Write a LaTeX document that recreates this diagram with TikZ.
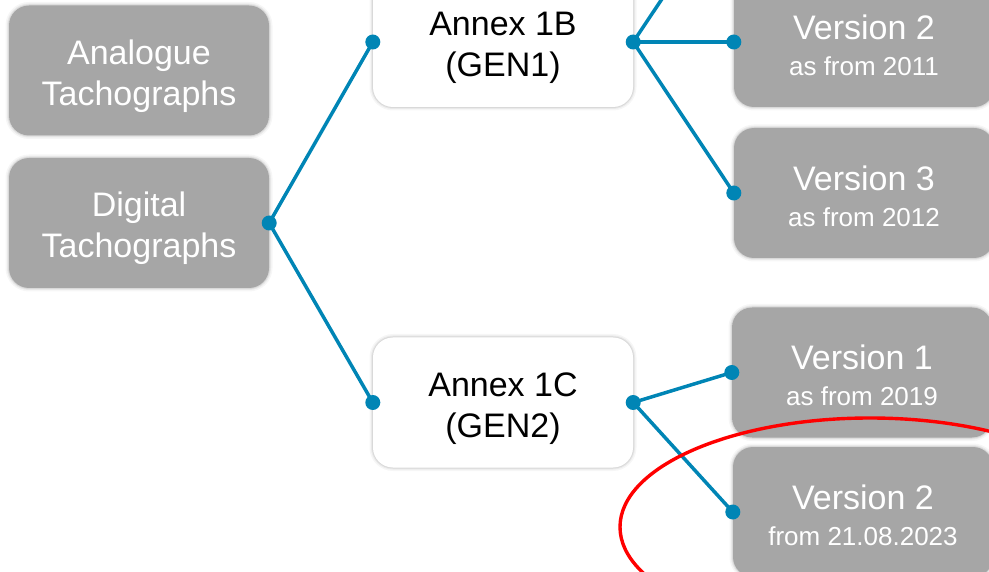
\documentclass[tikz,border=0pt]{standalone}
\usepackage{fontspec}
\setmainfont{Liberation Sans}
\definecolor{boxgrey}{HTML}{A6A6A6}
\definecolor{linkblue}{HTML}{0085B5}
\definecolor{markred}{HTML}{FF0000}
% line struts: ascent and descent of one text line; the top one sits a bit higher
\newcommand\lnstrut{\rule[-0.212em]{0pt}{1.117em}}
\newcommand\topstrut{\rule[-0.212em]{0pt}{1.265em}}
\tikzset{
  softshadow/.style={
    preaction={draw=black,draw opacity=0.035,line width=7pt},
    preaction={draw=black,draw opacity=0.05,line width=4pt},
    preaction={draw=black,draw opacity=0.07,line width=2pt}},
  card/.style={rounded corners=20pt,minimum width=260pt,minimum height=130pt,
    inner sep=0pt,align=center,softshadow},
  greycard/.style={card,fill=boxgrey,text=white,font=\fontsize{34}{41}\selectfont},
  whitecard/.style={card,fill=white,text=black,font=\fontsize{34}{41}\selectfont},
  versioncard/.style={card,fill=boxgrey,text=white,font=\fontsize{34}{36}\selectfont},
  link/.style={draw=linkblue,line width=3.5pt},
  joint/.style={fill=linkblue}
}
\newcommand\subline[1]{{\fontsize{26}{36}\selectfont\lnstrut #1}}
\begin{document}
\begin{tikzpicture}[x=1pt,y=-1pt]
  \useasboundingbox (0,0) rectangle (989,572);
  \clip (0,0) rectangle (989,572);

  % boxes
  \node[greycard]  (ana)  at (139,70.5) {\topstrut Analogue\\\lnstrut Tachographs};
  \node[greycard]  (dig)  at (139,223)  {\topstrut Digital\\\lnstrut Tachographs};
  \node[whitecard] (gen1) at (503,42)   {\topstrut Annex 1B\\\lnstrut (GEN1)};
  \node[whitecard] (gen2) at (503,402.5){\topstrut Annex 1C\\\lnstrut (GEN2)};
  \node[versioncard] (g1v2) at (864,42)  {\topstrut Version 2\\\subline{as from 2011}};
  \node[versioncard] (g1v3) at (864,193) {\topstrut Version 3\\\subline{as from 2012}};
  \node[versioncard] (g2v1) at (862,372.5){\topstrut Version 1\\\subline{as from 2019}};
  \node[versioncard] (g2v2) at (863,512) {\topstrut Version 2\\\subline{from 21.08.2023}};
  \coordinate (g1v1) at (734,-109);

  % connectors
  \draw[link] (dig.east) -- (gen1.west);
  \draw[link] (dig.east) -- (gen2.west);
  \draw[link] (gen1.east) -- (g1v1);
  \draw[link] (gen1.east) -- (g1v2.west);
  \draw[link] (gen1.east) -- (g1v3.west);
  \draw[link] (gen2.east) -- (g2v1.west);
  \draw[link] (gen2.east) -- (g2v2.west);

  % joints
  \foreach \p in {dig.east,gen1.west,gen2.west,gen1.east,gen2.east,
                  g1v2.west,g1v3.west,g2v1.west,g2v2.west}
    \fill[joint] (\p) circle (7.5pt);

  % highlight
  \draw[markred,line width=3.4pt] (870,527) ellipse [x radius=250,y radius=109];
\end{tikzpicture}
\end{document}
